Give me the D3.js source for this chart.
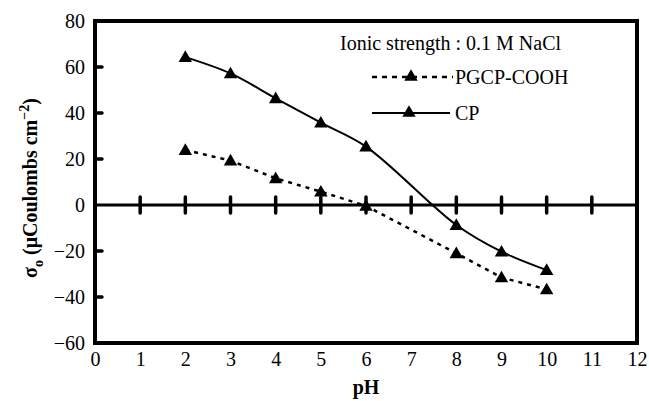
<!DOCTYPE html>
<html>
<head>
<meta charset="utf-8">
<script src="https://cdn.jsdelivr.net/npm/d3@7"></script>
<style>
body { margin: 0; background: #fff; }
svg text { font-family: "Liberation Serif", "Times New Roman", serif !important; }
</style>
</head>
<body>
<svg id="chart" width="649" height="401"></svg>
<script>
// Daten
var xTicks = [0, 1, 2, 3, 4, 5, 6, 7, 8, 9, 10, 11, 12];
var yTicks = [-60, -40, -20, 0, 20, 40, 60, 80];
var phCP = [2, 3, 4, 5, 6, 8, 9, 10];
var wertCP = [64.3, 57.2, 46.4, 35.8, 25.4, -8.7, -20.3, -28.3];
var phPG = [2, 3, 4, 5, 6, 8, 9, 10];
var wertPG = [23.9, 19.3, 11.6, 5.8, -0.4, -21, -31.5, -36.7];

var svg = d3.select("#chart");
var links = 95, oben = 21, rechts = 637, unten = 343;
var schrift = 20;

var x = d3.scaleLinear().domain([0, 12]).range([links, rechts]);
var y = d3.scaleLinear().domain([-60, 80]).range([unten, oben]);

// Achsenbeschriftung unten
var xAxis = d3.axisBottom(x).tickValues(xTicks).tickSize(0).tickPadding(9);
var gx = svg.append("g").attr("transform", "translate(0," + unten + ")").call(xAxis);
gx.select(".domain").remove();
gx.attr("font-size", schrift).attr("font-family", "Liberation Serif");
gx.selectAll("text").attr("fill", "#000");

// links
var yAxis = d3.axisLeft(y).tickValues(yTicks).tickSize(0).tickPadding(10)
    .tickFormat(function(d) { return d < 0 ? "\u2212" + Math.abs(d) : d; });
var gy = svg.append("g").attr("transform", "translate(" + links + ",0)").call(yAxis);
gy.select(".domain").remove();
gy.attr("font-size", schrift).attr("font-family", "Liberation Serif");
gy.selectAll("text").attr("fill", "#000");

// kleine Striche innen links
svg.selectAll(".ytick").data([60, 40, 20, -20, -40]).enter().append("line")
    .attr("x1", links).attr("x2", links + 7)
    .attr("y1", function(d) { return y(d); }).attr("y2", function(d) { return y(d); })
    .attr("stroke", "#000").attr("stroke-width", 3.5).attr("stroke-linecap", "round");

// Nulllinie
svg.append("line").attr("x1", links).attr("x2", rechts).attr("y1", y(0)).attr("y2", y(0))
    .attr("stroke", "#000").attr("stroke-width", 3);

svg.selectAll(".xtick").data(xTicks.slice(1, 12)).enter().append("line")
    .attr("x1", function(d) { return x(d); }).attr("x2", function(d) { return x(d); })
    .attr("y1", y(0) - 8).attr("y2", y(0) + 8)
    .attr("stroke", "#000").attr("stroke-width", 3.5).attr("stroke-linecap", "round");

// Rahmen
svg.append("rect").attr("x", links).attr("y", oben)
    .attr("width", rechts - links).attr("height", unten - oben)
    .attr("fill", "none").attr("stroke", "#000").attr("stroke-width", 4);

// Linien
var linieCP = d3.line().x(function(d, i) { return x(phCP[i]); }).y(function(d) { return y(d); })
    .curve(d3.curveCatmullRom.alpha(0.5));
var liniePG = d3.line().x(function(d, i) { return x(phPG[i]); }).y(function(d) { return y(d); });

svg.append("path").attr("d", linieCP(wertCP)).attr("fill", "none")
    .attr("stroke", "#000").attr("stroke-width", 2);
svg.append("path").attr("d", liniePG(wertPG)).attr("fill", "none")
    .attr("stroke", "#000").attr("stroke-width", 2.5).attr("stroke-dasharray", "4,5");

var dreieck = d3.symbol().type(d3.symbolTriangle).size(78);
function punkte(ph, werte) {
    svg.append("g").selectAll("path").data(werte).enter().append("path")
        .attr("d", dreieck)
        .attr("transform", function(d, i) { return "translate(" + x(ph[i]) + "," + (y(d) + 1) + ")"; })
        .attr("fill", "#000");
}
punkte(phCP, wertCP);
punkte(phPG, wertPG);

// Legende
svg.append("text").attr("x", 340).attr("y", 50).attr("font-size", schrift).text("Ionic strength : 0.1 M NaCl");

svg.append("line").attr("x1", 372).attr("x2", 453).attr("y1", 77).attr("y2", 77)
    .attr("stroke", "#000").attr("stroke-width", 2.5).attr("stroke-dasharray", "5,5");
svg.append("path").attr("d", dreieck).attr("transform", "translate(411,77)").attr("fill", "#000");
svg.append("text").attr("x", 455).attr("y", 84).attr("font-size", schrift).text("PGCP-COOH");

svg.append("line").attr("x1", 372).attr("x2", 450).attr("y1", 113).attr("y2", 113)
    .attr("stroke", "#000").attr("stroke-width", 2);
svg.append("path").attr("d", dreieck).attr("transform", "translate(409,113)").attr("fill", "#000");
svg.append("text").attr("x", 455).attr("y", 120).attr("font-size", schrift).text("CP");

// Achsentitel
svg.append("text").attr("x", 366).attr("y", 394).attr("font-size", schrift).attr("font-weight", "bold")
    .attr("text-anchor", "middle").text("pH");

var ytitel = svg.append("text").attr("transform", "translate(37,188) rotate(-90)")
    .attr("font-size", schrift).attr("font-weight", "bold").attr("text-anchor", "middle");
ytitel.append("tspan").text("\u03c3");
ytitel.append("tspan").attr("font-size", 14).attr("dy", 6).text("o");
ytitel.append("tspan").attr("dy", -6).text(" (\u03bcCoulombs cm");
ytitel.append("tspan").attr("font-size", 14).attr("dy", -8).text("\u22122");
ytitel.append("tspan").attr("dy", 8).text(")");
</script>
</body>
</html>
